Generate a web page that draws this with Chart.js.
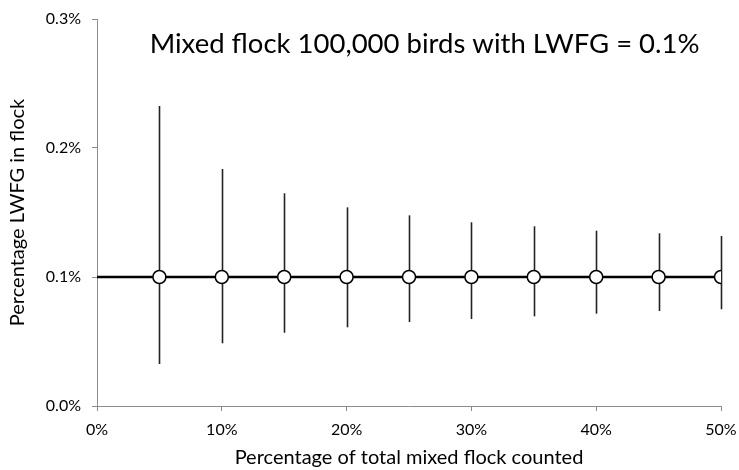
<!DOCTYPE html>
<html>
<head>
<meta charset="utf-8">
<script src="https://cdn.jsdelivr.net/npm/chart.js@4/dist/chart.umd.min.js"></script>
<style>
  html, body { margin: 0; padding: 0; background: #fff; }
  #wrap { width: 739px; height: 470px; }
</style>
</head>
<body>
<div id="wrap"><canvas id="c" width="739" height="470"></canvas></div>
<script>
// Share of the mixed flock counted (%)
const countedPct = [5, 10, 15, 20, 25, 30, 35, 40, 45, 50];
// Estimated LWFG share (%) at each sampling level
const estimatePct = [0.1, 0.1, 0.1, 0.1, 0.1, 0.1, 0.1, 0.1, 0.1, 0.1];
// Upper and lower bounds of the estimate (%)
const upperPct = [0.2326, 0.1837, 0.1649, 0.1540, 0.1478, 0.1424, 0.1393, 0.1359, 0.1339, 0.1318];
const lowerPct = [0.0326, 0.0486, 0.0568, 0.0610, 0.0651, 0.0674, 0.0695, 0.0716, 0.0736, 0.0750];
// True proportion in the flock, drawn across the whole x range
const trueLineX = [0, 50];
const trueLineY = [0.1, 0.1];
const xTicks = [0, 10, 20, 30, 40, 50];
const yTicks = [0, 0.1, 0.2, 0.3];
const titleText = 'Mixed flock 100,000 birds with LWFG = 0.1%';

const FONT = 'Lato, "Liberation Sans", sans-serif';
const AXIS_GREY = '#8c8c8c';

// Vertical range bars, drawn under the line and markers
const rangeBars = {
  id: 'rangeBars',
  beforeDatasetsDraw(chart) {
    const { ctx, scales: { x, y } } = chart;
    ctx.save();
    ctx.strokeStyle = '#222';
    ctx.lineWidth = 1.6;
    countedPct.forEach((cx, i) => {
      const px = Math.round(x.getPixelForValue(cx)) + 0.5;
      ctx.beginPath();
      ctx.moveTo(px, y.getPixelForValue(upperPct[i]));
      ctx.lineTo(px, y.getPixelForValue(lowerPct[i]));
      ctx.stroke();
    });
    ctx.restore();
  }
};

// Heading set inside the plot area
const innerTitle = {
  id: 'innerTitle',
  afterDraw(chart) {
    const { ctx, chartArea } = chart;
    ctx.save();
    ctx.fillStyle = '#000';
    ctx.font = '27.5px ' + FONT;
    ctx.textAlign = 'center';
    ctx.textBaseline = 'middle';
    ctx.fillText(titleText, chartArea.left + (chartArea.right - chartArea.left) * 0.525, 44);
    ctx.restore();
  }
};

new Chart(document.getElementById('c'), {
  type: 'scatter',
  data: {
    datasets: [
      {
        label: 'Estimate',
        data: countedPct.map((v, i) => ({ x: v, y: estimatePct[i] })),
        pointRadius: 6.5,
        pointHoverRadius: 6.5,
        pointBackgroundColor: '#fff',
        pointBorderColor: '#000',
        pointBorderWidth: 1.5,
        showLine: false,
        order: 1
      },
      {
        label: 'True proportion',
        type: 'line',
        data: trueLineX.map((v, i) => ({ x: v, y: trueLineY[i] })),
        borderColor: '#000',
        borderWidth: 2.5,
        pointRadius: 0,
        fill: false,
        order: 2
      }
    ]
  },
  options: {
    responsive: false,
    animation: false,
    events: [],
    layout: { padding: { top: 19, right: 18, left: 0, bottom: 0 } },
    plugins: {
      legend: { display: false },
      title: { display: false },
      tooltip: { enabled: false }
    },
    scales: {
      x: {
        type: 'linear',
        min: 0,
        max: 50,
        afterBuildTicks(scale) { scale.ticks = xTicks.map(v => ({ value: v })); },
        afterFit(scale) {
          scale.height = 64;
          scale.paddingLeft = 0;
          scale.paddingRight = 0;
        },
        border: { color: AXIS_GREY, width: 1 },
        grid: { drawOnChartArea: false, color: AXIS_GREY, tickLength: 5 },
        ticks: {
          color: '#000',
          font: { family: FONT, size: 16 },
          padding: 9,
          maxRotation: 0,
          callback: v => v + '%'
        },
        title: {
          display: true,
          text: 'Percentage of total mixed flock counted',
          color: '#000',
          font: { family: FONT, size: 20 },
          padding: { top: 2, bottom: 0 }
        }
      },
      y: {
        type: 'linear',
        min: 0,
        max: 0.3,
        afterBuildTicks(scale) { scale.ticks = yTicks.map(v => ({ value: v })); },
        afterFit(scale) {
          scale.width = 97;
          scale.paddingTop = 0;
          scale.paddingBottom = 0;
        },
        border: { color: AXIS_GREY, width: 1 },
        grid: { drawOnChartArea: false, color: AXIS_GREY, tickLength: 5 },
        ticks: {
          color: '#000',
          font: { family: FONT, size: 16 },
          padding: 11,
          callback: v => v.toFixed(1) + '%'
        },
        title: {
          display: true,
          text: 'Percentage LWFG in flock',
          color: '#000',
          font: { family: FONT, size: 20 },
          padding: { top: 6, bottom: 0 }
        }
      }
    }
  },
  plugins: [rangeBars, innerTitle]
});
</script>
</body>
</html>
